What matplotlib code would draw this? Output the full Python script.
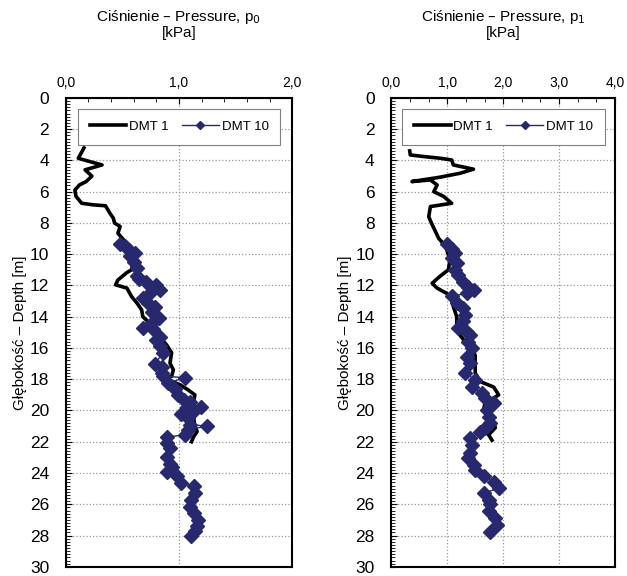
import matplotlib
matplotlib.use("Agg")
import matplotlib.pyplot as plt
from matplotlib.ticker import MultipleLocator

plt.rcParams['font.family'] = ['Liberation Sans', 'DejaVu Sans']

# DMT 1, p0 (pressure, depth)
p0_dmt1 = [0.16, 0.11, 0.21, 0.32, 0.17, 0.23, 0.18, 0.12, 0.08, 0.09, 0.14, 0.24, 0.35,
           0.39, 0.42, 0.43, 0.48, 0.46, 0.51, 0.54, 0.57, 0.60, 0.58, 0.54, 0.46, 0.44,
           0.54, 0.58, 0.63, 0.67, 0.68, 0.74, 0.79, 0.83, 0.89, 0.935, 0.92, 0.95, 0.935,
           0.89, 1.01, 1.08, 1.14, 1.13, 1.11, 1.13, 1.14, 1.16, 1.13, 1.11]
z_p0_dmt1 = [3.2, 3.86, 4.07, 4.29, 4.6, 5.0, 5.35, 5.57, 5.9, 6.3, 6.74, 6.84, 6.9,
             7.38, 7.7, 8.0, 8.23, 8.66, 9.08, 9.5, 9.94, 10.36, 11.0, 11.17, 11.65, 11.96,
             12.17, 12.7, 13.14, 13.56, 14.0, 14.4, 14.7, 15.3, 15.8, 16.3, 16.97, 17.4, 17.8,
             18.0, 18.36, 18.68, 19.0, 19.43, 19.96, 20.5, 21.0, 21.35, 21.67, 22.0]

# DMT 10, p0
p0_dmt10 = [0.48, 0.52, 0.56, 0.61, 0.57, 0.60, 0.63, 0.63, 0.65, 0.71, 0.80, 0.83, 0.74,
            0.68, 0.73, 0.79, 0.76, 0.82, 0.76, 0.68, 0.77, 0.83, 0.80, 0.83, 0.86, 0.79,
            0.85, 0.85, 0.86, 1.05, 0.905, 0.965, 0.99, 1.04, 1.10, 1.07, 1.19, 1.13, 1.02,
            1.08, 1.10, 1.245, 1.08, 1.05, 0.89, 0.89, 0.92, 0.89, 0.92, 0.935, 0.89, 0.98,
            1.02, 1.13, 1.14, 1.11, 1.10, 1.13, 1.17, 1.16, 1.14, 1.11]
z_p0_dmt10 = [9.34, 9.5, 9.7, 9.9, 10.1, 10.5, 10.9, 11.4, 11.6, 11.75, 11.96, 12.3, 12.5,
              12.8, 13.1, 13.35, 13.7, 14.1, 14.4, 14.7, 14.8, 15.3, 15.5, 15.9, 16.3, 17.0,
              17.2, 17.6, 17.8, 17.9, 18.25, 18.6, 19.0, 19.3, 19.43, 19.75, 19.8, 20.06, 20.2,
              20.5, 20.9, 21.0, 21.24, 21.56, 21.7, 22.1, 22.4, 22.95, 23.4, 23.6, 23.96, 24.2,
              24.65, 24.86, 25.3, 25.7, 26.15, 26.57, 27.0, 27.4, 27.7, 28.0]

# DMT 1, p1
p1_dmt1 = [0.33, 0.34, 0.58, 0.875, 1.08, 1.11, 1.47, 1.23, 0.875, 0.37, 0.70, 0.82, 0.76,
           0.935, 1.08, 0.70, 0.67, 0.73, 0.79, 0.85, 0.935, 0.99, 1.05, 1.02, 0.875, 0.73,
           0.82, 0.99, 1.08, 1.11, 1.17, 1.17, 1.19, 1.5, 1.5, 1.59, 1.83, 1.92, 1.83,
           1.68, 1.65, 1.71, 1.83, 1.86, 1.74, 1.80]
z_p1_dmt1 = [3.39, 3.65, 3.75, 3.86, 3.97, 4.29, 4.56, 4.82, 5.07, 5.35, 5.25, 5.57, 6.0,
             6.3, 6.74, 6.95, 7.6, 8.1, 8.55, 9.0, 9.34, 9.7, 10.36, 11.0, 11.4, 11.86,
             12.17, 12.5, 12.9, 13.35, 14.0, 14.6, 15.0, 16.45, 17.6, 18.15, 18.5, 19.0, 19.2,
             19.43, 19.96, 20.4, 20.7, 21.1, 21.56, 21.9]

# DMT 10, p1
p1_dmt10 = [0.99, 1.08, 1.14, 1.08, 1.17, 1.14, 1.20, 1.29, 1.38, 1.47, 1.35, 1.08, 1.17,
            1.29, 1.32, 1.29, 1.20, 1.35, 1.41, 1.38, 1.44, 1.35, 1.41, 1.32, 1.5, 1.44,
            1.62, 1.68, 1.83, 1.71, 1.74, 1.77, 1.68, 1.59, 1.41, 1.44, 1.41, 1.38, 1.47,
            1.5, 1.65, 1.83, 1.92, 1.65, 1.74, 1.77, 1.74, 1.86, 1.89, 1.77]
z_p1_dmt10 = [9.34, 9.68, 9.94, 10.25, 10.57, 11.0, 11.3, 11.75, 12.07, 12.28, 12.5, 12.7, 13.14,
              13.45, 13.88, 14.3, 14.7, 15.0, 15.2, 15.6, 16.0, 16.55, 16.97, 17.6, 18.04, 18.47,
              18.9, 19.2, 19.5, 19.96, 20.4, 20.8, 21.1, 21.35, 21.77, 22.2, 22.75, 23.05, 23.5,
              23.8, 24.2, 24.55, 24.97, 25.3, 25.7, 26.0, 26.46, 26.9, 27.3, 27.75]

navy = '#27286e'

fig = plt.figure(figsize=(6.27, 5.76), dpi=100)
ax1 = fig.add_axes([0.105, 0.016, 0.361, 0.814])
ax2 = fig.add_axes([0.624, 0.016, 0.357, 0.814])

panels = [
    (ax1, p0_dmt1, z_p0_dmt1, p0_dmt10, z_p0_dmt10, 2.0, 0.2, '0'),
    (ax2, p1_dmt1, z_p1_dmt1, p1_dmt10, z_p1_dmt10, 4.0, 1.0 / 3, '1'),
]

for ax, x1, y1, x10, y10, xmax, xmin, sub in panels:
    ax.plot(x1, y1, color='black', lw=2.6, label='DMT 1', zorder=3)
    ax.plot(x10, y10, color=navy, lw=1.0, marker='D', markersize=7,
            markeredgecolor=navy, label='DMT 10', zorder=4)
    ax.set_xlim(0, xmax)
    ax.set_ylim(30, 0)
    ax.xaxis.tick_top()
    ax.xaxis.set_major_locator(MultipleLocator(1.0))
    ax.xaxis.set_minor_locator(MultipleLocator(xmin))
    ax.xaxis.set_major_formatter(lambda v, pos: ('%.1f' % v).replace('.', ','))
    ax.yaxis.set_major_locator(MultipleLocator(2))
    ax.yaxis.set_minor_locator(MultipleLocator(0.2))
    ax.tick_params(axis='x', which='both', direction='in', top=True, bottom=False,
                   labelsize=10, pad=6)
    ax.tick_params(axis='x', which='major', length=4)
    ax.tick_params(axis='x', which='minor', length=3)
    ax.tick_params(axis='y', which='major', direction='in', length=4, labelsize=12.5, pad=12)
    ax.tick_params(axis='y', which='minor', direction='in', length=3)
    ax.grid(True, which='major', color='#999999', linestyle=':', lw=0.9)
    for s in ax.spines.values():
        s.set_linewidth(1.5)
    ax.set_ylabel('Głębokość – Depth [m]', fontsize=11, labelpad=2)
    ax.set_title('Ciśnienie – Pressure, p$_{%s}$\n[kPa]' % sub, fontsize=11,
                 pad=44, linespacing=1.0)
    leg = ax.legend(loc='upper center', bbox_to_anchor=(0.5, 0.977), ncol=2,
                    fancybox=False, edgecolor='#808080', framealpha=1.0, fontsize=9.5,
                    handlelength=2.8, handletextpad=0.2, columnspacing=1.0,
                    borderpad=0.9, borderaxespad=0, markerscale=0.6)
    leg.get_frame().set_linewidth(0.8)

fig.savefig('out.png', dpi=100)
